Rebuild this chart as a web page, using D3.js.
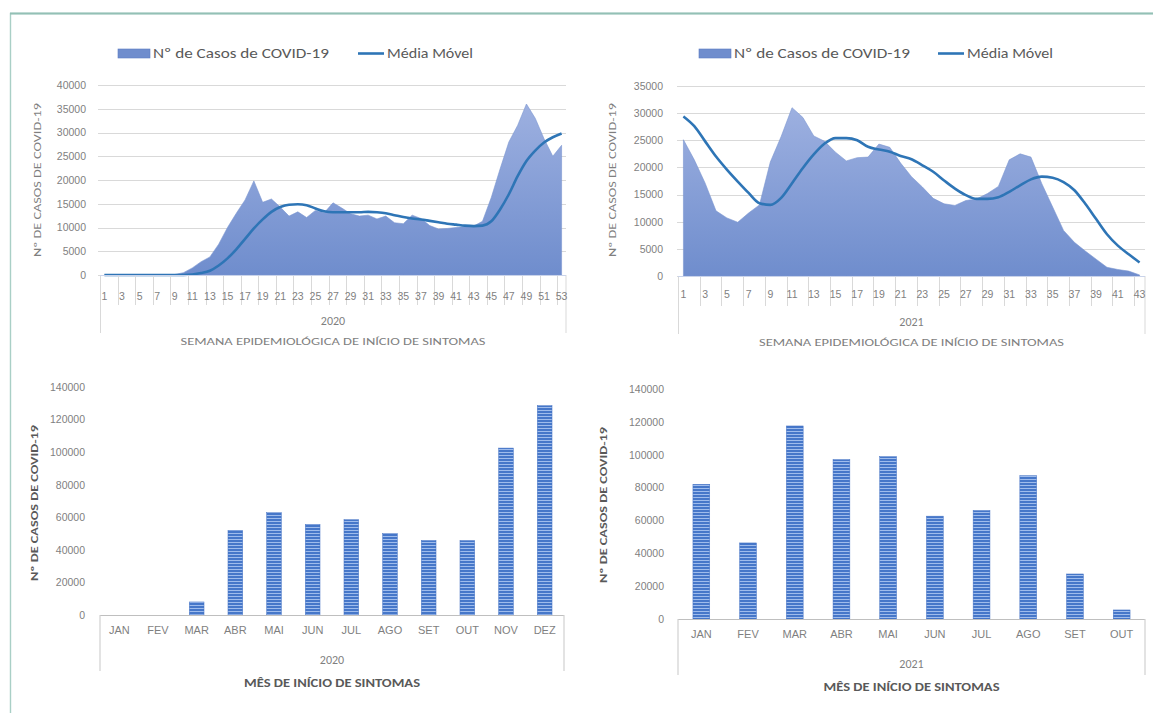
<!DOCTYPE html>
<html><head><meta charset="utf-8">
<script src="https://cdn.jsdelivr.net/npm/d3@7"></script>
<style>body{margin:0;background:#fff}svg{display:block;font-family:Carlito,Lato,'Liberation Sans',sans-serif}</style>
</head><body><svg id="c" width="1153" height="713"></svg>
<script>
// ---------- DATA ----------
const weeks2020 = d3.range(1, 54);
const cases2020 = [0,0,0,0,0,0,0,0,100,500,1500,2800,3800,6500,10000,13000,15800,19800,15300,16000,14300,12400,13300,12100,13600,13100,15200,14100,12900,12400,12600,11800,12400,11000,10800,12600,11900,10400,9700,9800,10000,10200,10300,11300,16300,22300,28000,31500,36000,33000,28700,25000,27300];
const ma2020 = [0,0,0,0,0,0,0,0,0,0,100,400,900,2000,3500,5400,7600,9800,11700,13300,14300,14800,14900,14700,14000,13400,13200,13200,13200,13200,13300,13200,13000,12600,12200,11900,11700,11400,11100,10800,10600,10400,10300,10400,11300,13800,17000,20800,24000,26200,27900,29000,29800];
const weeks2021 = d3.range(1, 44);
const cases2021 = [25100,21400,17100,12000,10700,9900,11600,13100,21000,25700,31000,29200,25800,24800,22800,21200,21800,21900,24300,23700,20800,18300,16400,14300,13300,13000,13900,14200,15200,16500,21400,22500,21900,17000,12700,8400,6200,4600,3100,1600,1200,900,200];
const ma2021 = [29400,27600,24800,22000,19600,17400,15300,13400,13100,14400,17100,19900,22400,24400,25400,25400,25000,23800,23300,22900,22100,21500,20400,19200,17600,16100,14900,14200,14200,14500,15500,16700,17800,18300,18100,17300,15800,13300,10500,7700,5600,4000,2500];
const months2020 = ["JAN","FEV","MAR","ABR","MAI","JUN","JUL","AGO","SET","OUT","NOV","DEZ"];
const monthly2020 = [0,0,8000,52000,62800,55700,58500,50000,45700,45700,102500,128500];
const months2021 = ["JAN","FEV","MAR","ABR","MAI","JUN","JUL","AGO","SET","OUT"];
const monthly2021 = [82000,46300,117500,97000,98800,62600,66000,87200,27400,5500];
const yTicks2020w = [0,5000,10000,15000,20000,25000,30000,35000,40000];
const yTicks2021w = [0,5000,10000,15000,20000,25000,30000,35000];
const yTicksMonthly = [0,20000,40000,60000,80000,100000,120000,140000];
const legendCases = "Nº de Casos de COVID-19";
const legendMA = "Média Móvel";
const yTitle = "Nº DE CASOS DE COVID-19";
const weekTitle = "SEMANA EPIDEMIOLÓGICA DE INÍCIO DE SINTOMAS";
const monthTitle = "MÊS DE INÍCIO DE SINTOMAS";

// ---------- SETUP ----------
const svg = d3.select('#c');
const defs = svg.append('defs');
const grad = defs.append('linearGradient').attr('id','areaGrad').attr('x1',0).attr('y1',0).attr('x2',0).attr('y2',1);
grad.append('stop').attr('offset','0%').attr('stop-color','#9db0e0');
grad.append('stop').attr('offset','100%').attr('stop-color','#6f8dcd');
const pat = defs.append('pattern').attr('id','barPat').attr('patternUnits','userSpaceOnUse').attr('width',6).attr('height',3);
pat.append('rect').attr('width',6).attr('height',3).attr('fill','#4677c9');
pat.append('rect').attr('y',2).attr('width',6).attr('height',1).attr('fill','#9fbcec');

// frame
svg.append('rect').attr('x',10.5).attr('y',13.5).attr('width',1170).attr('height',730)
  .attr('fill','none').attr('stroke','#a9cfc6').attr('stroke-width',1.4);
svg.append('line').attr('x1',10).attr('x2',1153).attr('y1',13.5).attr('y2',13.5)
  .attr('stroke','#93c0b5').attr('stroke-width',2.2);

const grey = '#7f7f7f';
const lineCol = '#2e75b6';

function areaChart(o) {
  const g = svg.append('g');
  const x = d3.scaleBand().domain(o.weeks).range([o.x0, o.x1]).padding(0);
  const y = d3.scaleLinear().domain([0, o.yMax]).range([o.yZero, o.yTop]);
  const cx = w => x(w) + x.bandwidth() / 2;

  g.selectAll('line.grid').data(o.yTicks).join('line')
    .attr('x1', o.gx0).attr('x2', o.x1)
    .attr('y1', d => Math.round(y(d)) + 0.5).attr('y2', d => Math.round(y(d)) + 0.5)
    .attr('stroke', '#d9d9d9').attr('stroke-width', 1);

  const ya = g.append('g').attr('transform', `translate(${o.gx0},0)`)
    .call(d3.axisLeft(y).tickValues(o.yTicks).tickSize(0).tickPadding(o.ypad).tickFormat(d3.format('d')));
  ya.select('.domain').remove();
  ya.selectAll('text').attr('fill', grey).attr('font-size', 10.5);

  g.append('path').datum(o.cases)
    .attr('d', d3.area().x((d, i) => cx(o.weeks[i])).y0(y(0)).y1(d => y(d)))
    .attr('fill', 'url(#areaGrad)').attr('stroke', '#7a95d0').attr('stroke-width', 0.6);
  g.append('path').datum(o.ma)
    .attr('d', d3.line().x((d, i) => cx(o.weeks[i])).y(d => y(d)).curve(d3.curveMonotoneX))
    .attr('fill', 'none').attr('stroke', lineCol).attr('stroke-width', 2.6);

  const odd = o.weeks.filter(w => w % 2 === 1);
  g.selectAll('line.xt').data(odd.concat(['end'])).join('line')
    .attr('x1', d => d === 'end' ? o.x1 : Math.round(x(d)) + 0.5)
    .attr('x2', d => d === 'end' ? o.x1 : Math.round(x(d)) + 0.5)
    .attr('y1', o.yZero).attr('y2', (d, i) => (i === 0 || d === 'end') ? o.yZero + 58 : o.yZero + 30)
    .attr('stroke', '#d9d9d9');
  g.append('line').attr('x1', o.x0).attr('x2', o.x1).attr('y1', o.yZero + 0.5).attr('y2', o.yZero + 0.5)
    .attr('stroke', '#c9d3ea');
  const xa = g.append('g').attr('transform', `translate(0,${o.yZero})`)
    .call(d3.axisBottom(x).tickValues(odd).tickSize(0).tickPadding(o.xpad));
  xa.select('.domain').remove();
  xa.selectAll('text').attr('fill', grey).attr('font-size', 10.5);

  const mid = (o.x0 + o.x1) / 2;
  g.append('text').attr('x', mid).attr('y', o.yZero + 50).attr('text-anchor', 'middle')
    .attr('fill', grey).attr('font-size', 12).text(o.year);
  g.append('text').attr('x', mid).attr('y', o.yZero + 70).attr('text-anchor', 'middle')
    .attr('fill', grey).attr('font-size', 11).attr('textLength', 305).attr('lengthAdjust', 'spacingAndGlyphs').text(weekTitle);

  g.append('text').attr('transform', `translate(${o.ytx},${o.yty}) rotate(-90)`)
    .attr('text-anchor', 'middle').attr('fill', grey).attr('font-size', 10.5)
    .attr('textLength', 154).attr('lengthAdjust', 'spacingAndGlyphs').text(yTitle);

  const L = o.legend;
  g.append('rect').attr('x', L.sx).attr('y', 49).attr('width', 32).attr('height', 9)
    .attr('fill', '#6f8dcd').attr('stroke', '#5b7cc4').attr('stroke-width', 0.6);
  g.append('text').attr('x', L.tx).attr('y', 58).attr('fill', '#595959').attr('font-size', 14)
    .attr('textLength', 176).attr('lengthAdjust', 'spacingAndGlyphs').text(legendCases);
  g.append('line').attr('x1', L.lx).attr('x2', L.lx + 26).attr('y1', 53.5).attr('y2', 53.5)
    .attr('stroke', lineCol).attr('stroke-width', 2.6);
  g.append('text').attr('x', L.lx + 29).attr('y', 58).attr('fill', '#595959').attr('font-size', 14)
    .attr('textLength', 86).attr('lengthAdjust', 'spacingAndGlyphs').text(legendMA);
}

function barChart(o) {
  const g = svg.append('g');
  const x = d3.scaleBand().domain(o.months).range([o.x0, o.x1]).paddingInner(o.pad).paddingOuter(o.pad / 2);
  const y = d3.scaleLinear().domain([0, 140000]).range([o.yZero, o.yTop]);

  const ya = g.append('g').attr('transform', `translate(${o.x0},0)`)
    .call(d3.axisLeft(y).tickValues(yTicksMonthly).tickSize(0).tickPadding(o.ypad).tickFormat(d3.format('d')));
  ya.select('.domain').remove();
  ya.selectAll('text').attr('fill', grey).attr('font-size', 10.5);

  g.selectAll('rect.bar').data(o.values).join('rect')
    .attr('x', (d, i) => x(o.months[i])).attr('width', x.bandwidth())
    .attr('y', d => y(d)).attr('height', d => y(0) - y(d))
    .attr('fill', 'url(#barPat)').attr('stroke', '#4472c4').attr('stroke-width', 0.5);

  g.append('line').attr('x1', o.x0).attr('x2', o.x1).attr('y1', o.yZero + 0.5).attr('y2', o.yZero + 0.5)
    .attr('stroke', '#bfbfbf').attr('stroke-width', 1.2);
  [o.x0, o.x1].forEach(v => g.append('line').attr('x1', v).attr('x2', v)
    .attr('y1', o.yZero).attr('y2', o.yZero + 56).attr('stroke', '#d0d0d0').attr('stroke-width', 1.2));

  const xa = g.append('g').attr('transform', `translate(0,${o.yZero})`)
    .call(d3.axisBottom(x).tickSize(0).tickPadding(11));
  xa.select('.domain').remove();
  xa.selectAll('text').attr('fill', grey).attr('font-size', 11);

  const mid = (o.x0 + o.x1) / 2;
  g.append('text').attr('x', mid).attr('y', o.yZero + 49).attr('text-anchor', 'middle')
    .attr('fill', grey).attr('font-size', 12).text(o.year);
  g.append('text').attr('x', mid).attr('y', o.yZero + 72).attr('text-anchor', 'middle')
    .attr('fill', '#595959').attr('font-size', 12).attr('font-weight', 'bold')
    .attr('textLength', 176).attr('lengthAdjust', 'spacingAndGlyphs').text(monthTitle);

  g.append('text').attr('transform', `translate(${o.ytx},${o.yty}) rotate(-90)`)
    .attr('text-anchor', 'middle').attr('fill', '#595959').attr('font-size', 10.5).attr('font-weight', 'bold')
    .attr('textLength', 156).attr('lengthAdjust', 'spacingAndGlyphs').text(yTitle);
}

areaChart({weeks: weeks2020, cases: cases2020, ma: ma2020, yTicks: yTicks2020w, yMax: 40000,
  x0: 100, x1: 566, gx0: 98, yZero: 275, yTop: 85, ypad: 12, xpad: 18, year: '2020',
  ytx: 41, yty: 180, legend: {sx: 118, tx: 153, lx: 358}});
areaChart({weeks: weeks2021, cases: cases2021, ma: ma2021, yTicks: yTicks2021w, yMax: 35000,
  x0: 678, x1: 1145, gx0: 677, yZero: 276, yTop: 86, ypad: 14, xpad: 15, year: '2021',
  ytx: 616, yty: 180, legend: {sx: 699, tx: 734, lx: 938}});
barChart({months: months2020, values: monthly2020, x0: 100, x1: 564, yZero: 615, yTop: 387, ypad: 15, pad: 0.62,
  year: '2020', ytx: 38, yty: 503});
barChart({months: months2021, values: monthly2021, x0: 678, x1: 1145, yZero: 619, yTop: 389, ypad: 14, pad: 0.64,
  year: '2021', ytx: 607, yty: 505});
</script></body></html>
